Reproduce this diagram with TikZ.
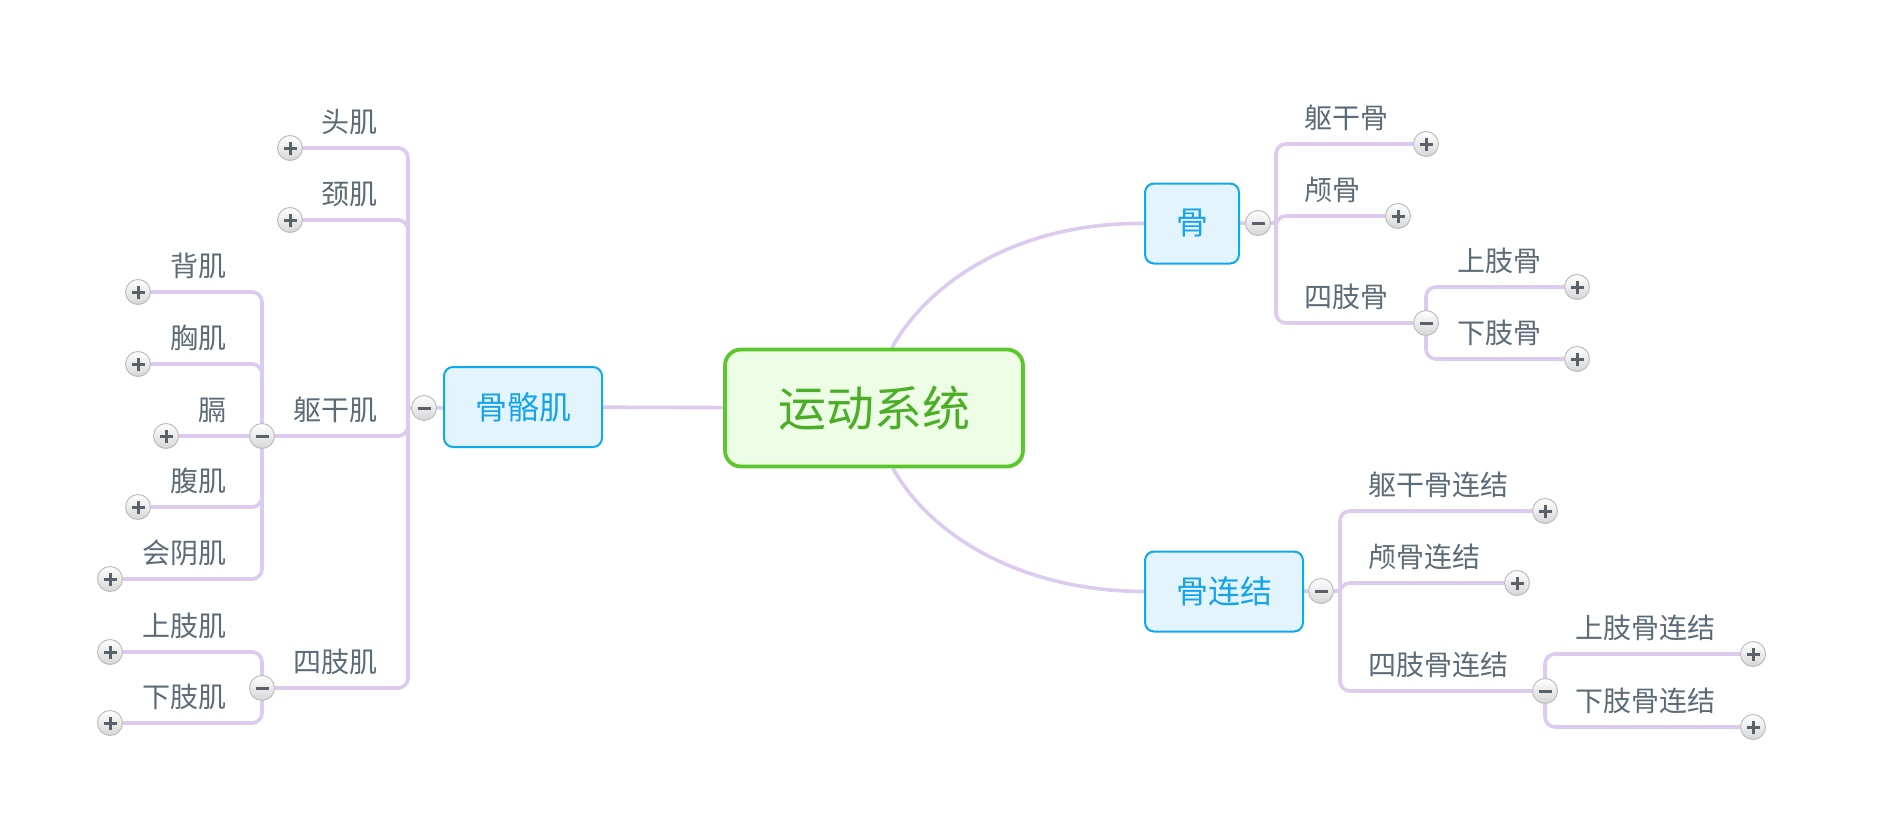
\documentclass[tikz,border=0pt]{standalone}
\usepackage{fontspec}
\newfontfamily\cjk{Noto Sans CJK SC}
\usetikzlibrary{backgrounds,calc}
\definecolor{conncol}{HTML}{DCCBEF}
\definecolor{labelcol}{HTML}{5B6B78}
\definecolor{topicedge}{HTML}{0CAAF0}
\definecolor{topicfill}{HTML}{E4F4FD}
\definecolor{topictext}{HTML}{14A3EC}
\definecolor{cedge}{HTML}{5CC72A}
\definecolor{cfill}{HTML}{EEFDE6}
\definecolor{ctext}{HTML}{4CAE27}
\definecolor{btnedge}{HTML}{BDBDBD}
\definecolor{btnbot}{HTML}{D6D6D6}
\definecolor{symcol}{HTML}{5A6169}
\tikzset{
  conn/.style={draw=conncol, line width=3.6, rounded corners=10},
  lab/.style={inner sep=0, text=labelcol, font=\cjk\fontsize{28}{28}\selectfont},
  labL/.style={lab, anchor=east},
  labR/.style={lab, anchor=west},
  topic/.style={draw=topicedge, fill=topicfill, line width=2, rounded corners=9,
    text=topictext, font=\cjk\fontsize{32}{32}\selectfont, minimum width=158, minimum height=80, inner sep=0},
  central/.style={draw=cedge, fill=cfill, line width=3.8, rounded corners=16,
    text=ctext, font=\cjk\fontsize{48}{48}\selectfont, minimum width=298, minimum height=117, inner sep=0},
  btn/.style={circle, minimum size=25, inner sep=0, draw=btnedge, line width=1,
    top color=white, bottom color=btnbot},
  plusbtn/.style={btn, path picture={
    \draw[symcol, line width=3]
      ([xshift=-6.5]path picture bounding box.center) -- ([xshift=6.5]path picture bounding box.center)
      ([yshift=-6.5]path picture bounding box.center) -- ([yshift=6.5]path picture bounding box.center);}},
  minusbtn/.style={btn, path picture={
    \draw[symcol, line width=3]
      ([xshift=-6.5]path picture bounding box.center) -- ([xshift=6.5]path picture bounding box.center);}},
}
\begin{document}
\begin{tikzpicture}[x=1pt, y=-1pt]
\useasboundingbox (0,0) rectangle (1900,816);

% main topics
\node[central] (c) at (874,408) {运动系统};
\node[topic] (ggj) at (523,407) {骨骼肌};
\node[topic, minimum width=94] (gu) at (1192,223.5) {骨};
\node[topic] (gl) at (1224,591.5) {骨连结};

% ---- left: 骨骼肌
\node[minusbtn] (ggjB) at (424,408) {};
\coordinate (jL) at (408,408);
\node[plusbtn] (toujiB) at (290,148) {};
\node[plusbtn] (jingjiB) at (290,220) {};
\node[minusbtn] (qgjB) at (262,436) {};
\node[minusbtn] (szjB) at (262,688) {};
\node[plusbtn] (beijiB) at (138,292) {};
\node[plusbtn] (xiongjiB) at (138,364) {};
\node[plusbtn] (geB) at (166,436) {};
\node[plusbtn] (fujiB) at (138,507) {};
\node[plusbtn] (hyjB) at (110,579) {};
\node[plusbtn] (szjiB) at (110,652) {};
\node[plusbtn] (xzjiB) at (110,723) {};

\node[labL] (touji) at (378,122) {头肌};
\node[labL] (jingji) at (378,194) {颈肌};
\node[labL] (qgj) at (378,410) {躯干肌};
\node[labL] (szj) at (378,662) {四肢肌};
\node[labL] (beiji) at (227,266) {背肌};
\node[labL] (xiongji) at (227,338) {胸肌};
\node[labL] (ge) at (227,410) {膈};
\node[labL] (fuji) at (227,481) {腹肌};
\node[labL] (hyj) at (227,553) {会阴肌};
\node[labL] (szji) at (227,626) {上肢肌};
\node[labL] (xzji) at (227,697) {下肢肌};

% ---- right: 骨
\node[minusbtn] (guB) at (1258,223) {};
\coordinate (jR1) at (1276,223);
\node[plusbtn] (qggB) at (1426,144) {};
\node[plusbtn] (lgB) at (1398,216) {};
\node[minusbtn] (szgB) at (1426,323) {};
\node[plusbtn] (szgsB) at (1577,287) {};
\node[plusbtn] (xzgB) at (1577,359) {};

\node[labR] (qgg) at (1304,118) {躯干骨};
\node[labR] (lg) at (1304,190) {颅骨};
\node[labR] (szg) at (1304,297) {四肢骨};
\node[labR] (szgs) at (1457,261) {上肢骨};
\node[labR] (xzg) at (1457,333) {下肢骨};

% ---- right: 骨连结
\node[minusbtn] (glB) at (1321,591) {};
\coordinate (jR2) at (1340,591);
\node[plusbtn] (qgglB) at (1545,511) {};
\node[plusbtn] (lglB) at (1517,583) {};
\node[minusbtn] (szglB) at (1545,691) {};
\node[plusbtn] (szglsB) at (1753,654) {};
\node[plusbtn] (xzglB) at (1753,727) {};

\node[labR] (qggl) at (1368,485) {躯干骨连结};
\node[labR] (lgl) at (1368,557) {颅骨连结};
\node[labR] (szgl) at (1368,665) {四肢骨连结};
\node[labR] (szgls) at (1575,628) {上肢骨连结};
\node[labR] (xzgl) at (1575,701) {下肢骨连结};

\begin{pgfonlayer}{background}
  % central links
  \draw[conn] (c) -- (ggj);
  \draw[conn] ([xshift=18]c.north) .. controls (930,280) and (1020,222) .. (gu.west);
  \draw[conn] ([xshift=19]c.south) .. controls (930,535) and (1020,591) .. (gl.west);
  % 骨骼肌
  \draw[conn] (ggj) -- (ggjB) -- (jL);
  \draw[conn] (toujiB) -- (toujiB -| jL) -- (jL);
  \draw[conn] (jingjiB) -- (jingjiB -| jL) -- (jL);
  \draw[conn] (qgjB) -- (qgjB -| jL) -- (jL);
  \draw[conn] (szjB) -- (szjB -| jL) -- (jL);
  \draw[conn] (beijiB) -- (beijiB -| qgjB) -- (qgjB);
  \draw[conn] (xiongjiB) -- (xiongjiB -| qgjB) -- (qgjB);
  \draw[conn] (geB) -- (qgjB);
  \draw[conn] (fujiB) -- (fujiB -| qgjB) -- (qgjB);
  \draw[conn] (hyjB) -- (hyjB -| qgjB) -- (qgjB);
  \draw[conn] (szjiB) -- (szjiB -| szjB) -- (szjB);
  \draw[conn] (xzjiB) -- (xzjiB -| szjB) -- (szjB);
  % 骨
  \draw[conn] (gu) -- (guB) -- (jR1);
  \draw[conn] (qggB) -- (qggB -| jR1) -- (jR1);
  \draw[conn] (lgB) -- (lgB -| jR1) -- (jR1);
  \draw[conn] (szgB) -- (szgB -| jR1) -- (jR1);
  \draw[conn] (szgsB) -- (szgsB -| szgB) -- (szgB);
  \draw[conn] (xzgB) -- (xzgB -| szgB) -- (szgB);
  % 骨连结
  \draw[conn] (gl) -- (glB) -- (jR2);
  \draw[conn] (qgglB) -- (qgglB -| jR2) -- (jR2);
  \draw[conn] (lglB) -- (lglB -| jR2) -- (jR2);
  \draw[conn] (szglB) -- (szglB -| jR2) -- (jR2);
  \draw[conn] (szglsB) -- (szglsB -| szglB) -- (szglB);
  \draw[conn] (xzglB) -- (xzglB -| szglB) -- (szglB);
\end{pgfonlayer}
\end{tikzpicture}
\end{document}
